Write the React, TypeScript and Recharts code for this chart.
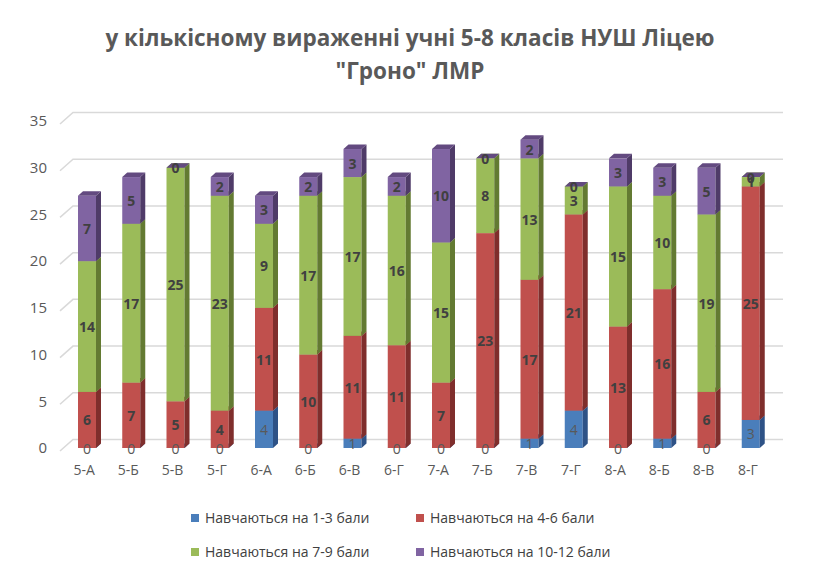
import React from 'react'
import { BarChart, Bar, XAxis, YAxis, CartesianGrid, LabelList } from 'recharts'

const classes = ['5-А', '5-Б', '5-В', '5-Г', '6-А', '6-Б', '6-В', '6-Г', '7-А', '7-Б', '7-В', '7-Г', '8-А', '8-Б', '8-В', '8-Г']
const grade1to3 = [0, 0, 0, 0, 4, 0, 1, 0, 0, 0, 1, 4, 0, 1, 0, 3]
const grade4to6 = [6, 7, 5, 4, 11, 10, 11, 11, 7, 23, 17, 21, 13, 16, 6, 25]
const grade7to9 = [14, 17, 25, 23, 9, 17, 17, 16, 15, 8, 13, 3, 15, 10, 19, 1]
const grade10to12 = [7, 5, 0, 2, 3, 2, 3, 2, 10, 0, 2, 0, 3, 3, 5, 0]
const seriesNames = ['Навчаються на 1-3 бали', 'Навчаються на 4-6 бали', 'Навчаються на 7-9 бали', 'Навчаються на 10-12 бали']
const yTicks = [0, 5, 10, 15, 20, 25, 30, 35]

const data = classes.map((name, i) => ({
  name,
  g1: grade1to3[i],
  g2: grade4to6[i],
  g3: grade7to9[i],
  g4: grade10to12[i],
}))

const keys = ['g1', 'g2', 'g3', 'g4']
const colors = [
  { front: '#4a7ebb', side: '#2e5286', top: '#3c6aa3' },
  { front: '#c0504d', side: '#7f2e2c', top: '#9e3f3c' },
  { front: '#9bbb59', side: '#637a32', top: '#7f9c45' },
  { front: '#8064a2', side: '#4f3b68', top: '#634a80' },
]

const DX = 5
const DY = 4.5
const font = '"Open Sans", sans-serif'

const Box = (props: any) => {
  const { x, y, width, height, c } = props
  if (x == null || y == null) return null
  const h = Math.max(height || 0, 0)
  return (
    <g>
      <rect x={x} y={y} width={width} height={h} fill={c.front} />
      <polygon
        points={`${x + width},${y} ${x + width + DX},${y - DY} ${x + width + DX},${y + h - DY} ${x + width},${y + h}`}
        fill={c.side}
      />
      <polygon
        points={`${x},${y} ${x + DX},${y - DY} ${x + width + DX},${y - DY} ${x + width},${y}`}
        fill={c.top}
      />
    </g>
  )
}

const GridLine = (props: any) => {
  const { x1, x2, y1 } = props
  return (
    <polyline
      key={props.key}
      points={`${x1 - 5},${y1 + 3} ${x1 + 8},${y1 - 8.5} ${x2 + 10},${y1 - 8.5}`}
      fill="none"
      stroke="#d9d9d9"
      strokeWidth={1.5}
    />
  )
}

const makeLabel = (bold: boolean) => (props: any) => {
  const { x, y, width, height, value } = props
  return (
    <text
      x={x + width / 2}
      y={y + height / 2}
      textAnchor="middle"
      dominantBaseline="central"
      fontFamily={font}
      fontSize={14}
      fontWeight={bold ? 700 : 400}
      fill={bold ? '#404040' : '#595959'}
    >
      {value}
    </text>
  )
}

export default function App() {
  return (
    <div style={{ position: 'absolute', left: 0, top: 0, width: 820, height: 573, background: '#fff', fontFamily: font }}>
      <div
        style={{
          position: 'absolute',
          top: 21,
          left: 0,
          width: 820,
          textAlign: 'center',
          fontSize: 22.5,
          fontWeight: 700,
          color: '#595959',
          lineHeight: '33px',
        }}
      >
        у кількісному вираженні учні 5-8 класів НУШ Ліцею
        <br />
        "Гроно" ЛМР
      </div>
      <BarChart
        width={820}
        height={573}
        data={data}
        margin={{ top: 121, right: 47, bottom: 95, left: 8 }}
        barSize={18}
      >
        <CartesianGrid vertical={false} horizontal={GridLine} />
        <XAxis
          dataKey="name"
          height={30}
          axisLine={false}
          tickLine={false}
          tickMargin={11}
          tick={{ fontSize: 14, fill: '#595959', fontFamily: font, dx: -3 }}
          interval={0}
        />
        <YAxis
          domain={[0, 35]}
          ticks={yTicks}
          width={57}
          axisLine={false}
          tickLine={false}
          tickMargin={12}
          tick={{ fontSize: 15, fill: '#595959', fontFamily: font }}
        />
        {keys.map((k, i) => (
          <Bar
            key={k}
            dataKey={k}
            name={seriesNames[i]}
            stackId="a"
            isAnimationActive={false}
            shape={(p: any) => <Box {...p} c={colors[i]} />}
          >
            <LabelList dataKey={k} content={makeLabel(i > 0)} />
          </Bar>
        ))}
      </BarChart>
      {seriesNames.map((n, i) => (
        <div
          key={n}
          style={{
            position: 'absolute',
            left: i % 2 === 0 ? 191 : 416,
            top: i < 2 ? 508 : 542,
            display: 'flex',
            alignItems: 'center',
            fontSize: 14,
            fontWeight: 500,
            color: '#404040',
            whiteSpace: 'nowrap',
          }}
        >
          <span style={{ display: 'inline-block', width: 8, height: 8, background: colors[i].front, marginRight: 6 }} />
          {n}
        </div>
      ))}
    </div>
  )
}
